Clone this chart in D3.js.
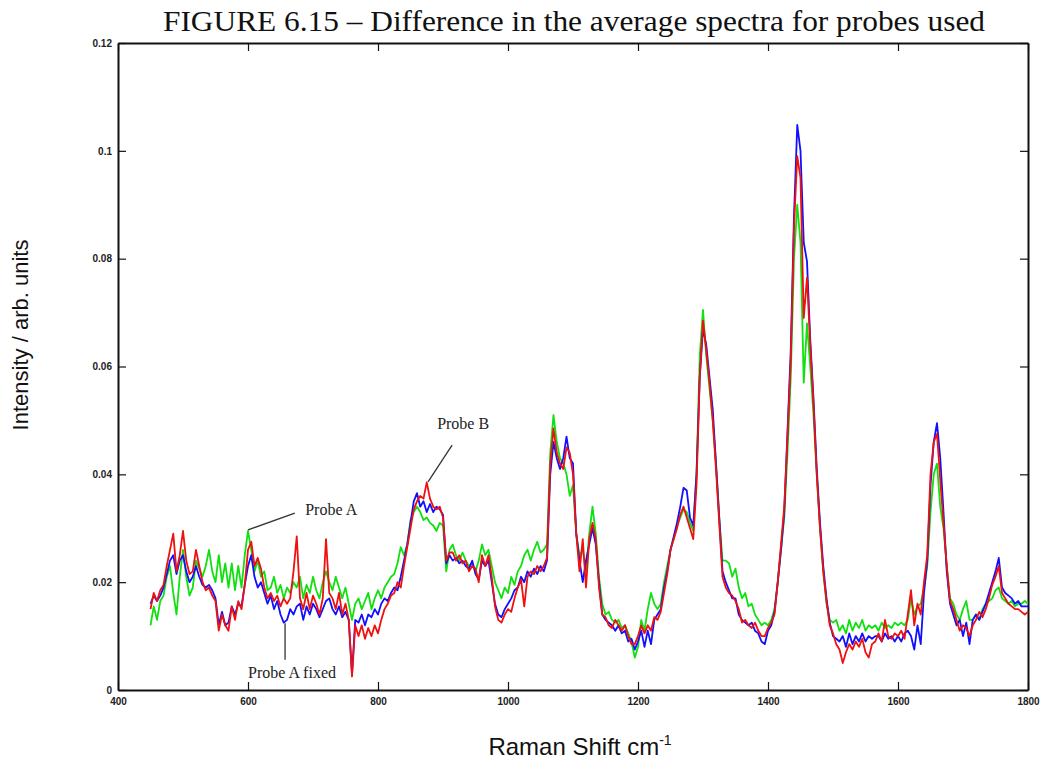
<!DOCTYPE html>
<html>
<head>
<meta charset="utf-8">
<script src="https://cdn.jsdelivr.net/npm/d3@7"></script>
<style>
  html, body { margin: 0; padding: 0; background: #fff; }
  svg { display: block; }
  .tick text { font-family: "Liberation Sans", Arial, sans-serif; font-size: 10px; font-weight: bold; fill: #222; }
  .tick line { stroke: #111; stroke-width: 1.2; }
  .domain { stroke: #111; stroke-width: 2; }
</style>
</head>
<body>
<div id="chart"></div>
<script>
// Raman shift grid (cm-1): 450..1800, one sample every 5 cm-1
const shiftStart = 450, shiftStep = 5, shiftEnd = 1800;
const shifts = d3.range(shiftStart, shiftEnd + 1, shiftStep);

const xTicks = [400, 600, 800, 1000, 1200, 1400, 1600, 1800];
const yTicks = [0, 0.02, 0.04, 0.06, 0.08, 0.1, 0.12];

// Probe A fixed (blue)
const probeAFixed = [
  0.016, 0.0175, 0.0165, 0.0175, 0.019, 0.0215, 0.024, 0.025, 0.0215, 0.024,
  0.025, 0.022, 0.020, 0.021, 0.023, 0.021, 0.0195, 0.019, 0.0195, 0.0185,
  0.017, 0.012, 0.0145, 0.012, 0.0125, 0.0155, 0.014, 0.016, 0.0155, 0.0195,
  0.023, 0.025, 0.021, 0.019, 0.020, 0.018, 0.016, 0.0175, 0.015, 0.0165,
  0.014, 0.0125, 0.013, 0.015, 0.014, 0.0155, 0.016, 0.013, 0.0155, 0.014,
  0.016, 0.015, 0.0135, 0.015, 0.0165, 0.017, 0.015, 0.014, 0.0155, 0.0135,
  0.0145, 0.013, 0.003, 0.013, 0.0125, 0.014, 0.012, 0.014, 0.0135, 0.015,
  0.014, 0.016, 0.017, 0.0165, 0.018, 0.019, 0.0185, 0.021, 0.024, 0.027,
  0.031, 0.035, 0.0365, 0.034, 0.035, 0.033, 0.0345, 0.033, 0.034, 0.0335,
  0.0325, 0.0235, 0.025, 0.024, 0.0245, 0.0235, 0.024, 0.023, 0.0225, 0.024,
  0.0215, 0.0205, 0.024, 0.023, 0.024, 0.020, 0.016, 0.014, 0.0135, 0.015,
  0.016, 0.017, 0.0185, 0.019, 0.021, 0.020, 0.022, 0.021, 0.0225, 0.0215,
  0.023, 0.022, 0.024, 0.040, 0.046, 0.043, 0.041, 0.043, 0.047, 0.043,
  0.042, 0.029, 0.024, 0.020, 0.024, 0.027, 0.030, 0.027, 0.020, 0.014,
  0.013, 0.0125, 0.012, 0.011, 0.012, 0.0105, 0.011, 0.009, 0.0095, 0.0075,
  0.009, 0.011, 0.008, 0.011, 0.0085, 0.013, 0.014, 0.015, 0.019, 0.022,
  0.026, 0.0285, 0.031, 0.034, 0.0375, 0.037, 0.032, 0.0305, 0.040, 0.058,
  0.067, 0.064, 0.058, 0.052, 0.042, 0.032, 0.022, 0.020, 0.0185, 0.017,
  0.017, 0.014, 0.013, 0.0125, 0.012, 0.0125, 0.011, 0.0105, 0.009, 0.0085,
  0.011, 0.012, 0.0145, 0.020, 0.026, 0.033, 0.048, 0.063, 0.088, 0.1048,
  0.100, 0.083, 0.0795, 0.065, 0.054, 0.041, 0.031, 0.023, 0.017, 0.0125,
  0.010, 0.0095, 0.009, 0.010, 0.008, 0.0105, 0.0085, 0.010, 0.009, 0.0105,
  0.009, 0.010, 0.0095, 0.010, 0.010, 0.009, 0.0105, 0.0095, 0.010, 0.009,
  0.010, 0.009, 0.0105, 0.011, 0.010, 0.0075, 0.012, 0.0085, 0.018, 0.024,
  0.038, 0.046, 0.0495, 0.043, 0.033, 0.022, 0.016, 0.014, 0.012, 0.013,
  0.010, 0.0125, 0.0085, 0.013, 0.014, 0.013, 0.0145, 0.016, 0.018, 0.020,
  0.022, 0.0245, 0.019, 0.018, 0.0175, 0.017, 0.016, 0.0165, 0.0155, 0.0155,
  0.0155
];

// Probe B (red)
const probeB = [
  0.015, 0.018, 0.0165, 0.0185, 0.0195, 0.023, 0.026, 0.029, 0.022, 0.025,
  0.0295, 0.024, 0.0215, 0.022, 0.026, 0.023, 0.020, 0.0185, 0.019, 0.0175,
  0.0165, 0.011, 0.014, 0.012, 0.011, 0.0155, 0.013, 0.0165, 0.015, 0.0195,
  0.026, 0.0275, 0.023, 0.0245, 0.0225, 0.019, 0.017, 0.018, 0.0165, 0.0175,
  0.0155, 0.017, 0.016, 0.017, 0.022, 0.0285, 0.017, 0.015, 0.018, 0.015,
  0.0175, 0.016, 0.014, 0.017, 0.028, 0.018, 0.017, 0.015, 0.018, 0.014,
  0.016, 0.013, 0.0025, 0.012, 0.010, 0.012, 0.0095, 0.0115, 0.010, 0.012,
  0.0105, 0.013, 0.015, 0.016, 0.0175, 0.018, 0.020, 0.019, 0.023, 0.0265,
  0.030, 0.0335, 0.035, 0.036, 0.0355, 0.0385, 0.0355, 0.034, 0.0335, 0.034,
  0.032, 0.024, 0.0255, 0.0255, 0.024, 0.025, 0.0235, 0.024, 0.022, 0.023,
  0.0225, 0.020, 0.025, 0.023, 0.025, 0.021, 0.0155, 0.013, 0.0125, 0.014,
  0.015, 0.0145, 0.017, 0.019, 0.0205, 0.0155, 0.021, 0.022, 0.0215, 0.023,
  0.022, 0.023, 0.0245, 0.042, 0.0485, 0.044, 0.042, 0.041, 0.045, 0.044,
  0.040, 0.029, 0.022, 0.028, 0.019, 0.028, 0.031, 0.028, 0.019, 0.014,
  0.0135, 0.012, 0.0115, 0.013, 0.012, 0.011, 0.012, 0.010, 0.0085, 0.0085,
  0.010, 0.012, 0.0105, 0.012, 0.011, 0.0135, 0.013, 0.0145, 0.018, 0.0215,
  0.026, 0.028, 0.030, 0.0325, 0.034, 0.032, 0.030, 0.028, 0.038, 0.058,
  0.0685, 0.063, 0.057, 0.050, 0.041, 0.031, 0.021, 0.019, 0.018, 0.0175,
  0.0165, 0.015, 0.0125, 0.013, 0.012, 0.0115, 0.0125, 0.011, 0.010, 0.010,
  0.0115, 0.0125, 0.014, 0.020, 0.027, 0.034, 0.047, 0.061, 0.086, 0.099,
  0.095, 0.069, 0.0765, 0.064, 0.053, 0.040, 0.030, 0.022, 0.0165, 0.012,
  0.0105, 0.0085, 0.0075, 0.005, 0.007, 0.0085, 0.0075, 0.009, 0.008, 0.0095,
  0.007, 0.006, 0.0085, 0.009, 0.0105, 0.009, 0.013, 0.010, 0.0095, 0.0105,
  0.010, 0.011, 0.0095, 0.014, 0.0185, 0.012, 0.016, 0.014, 0.020, 0.025,
  0.040, 0.046, 0.0475, 0.039, 0.031, 0.023, 0.0165, 0.015, 0.013, 0.011,
  0.012, 0.0115, 0.010, 0.012, 0.013, 0.0145, 0.0135, 0.015, 0.017, 0.0195,
  0.021, 0.023, 0.018, 0.017, 0.016, 0.0155, 0.015, 0.015, 0.0145, 0.014,
  0.0145
];

// Probe A (green)
const probeA = [
  0.012, 0.0155, 0.013, 0.0165, 0.0175, 0.021, 0.023, 0.018, 0.014, 0.021,
  0.026, 0.021, 0.0175, 0.019, 0.024, 0.0225, 0.021, 0.023, 0.026, 0.022,
  0.020, 0.025, 0.020, 0.0235, 0.019, 0.0235, 0.0185, 0.023, 0.019, 0.025,
  0.0295, 0.026, 0.022, 0.024, 0.021, 0.022, 0.0185, 0.019, 0.021, 0.018,
  0.0195, 0.017, 0.019, 0.018, 0.020, 0.019, 0.021, 0.017, 0.0195, 0.018,
  0.021, 0.0185, 0.017, 0.020, 0.022, 0.020, 0.0185, 0.021, 0.019, 0.017,
  0.019, 0.016, 0.013, 0.016, 0.017, 0.015, 0.0165, 0.018, 0.015, 0.017,
  0.0185, 0.017, 0.019, 0.020, 0.021, 0.0215, 0.0235, 0.0265, 0.025, 0.027,
  0.0315, 0.033, 0.034, 0.033, 0.0315, 0.032, 0.031, 0.0305, 0.0295, 0.031,
  0.0305, 0.022, 0.026, 0.027, 0.025, 0.024, 0.0255, 0.024, 0.023, 0.0235,
  0.022, 0.024, 0.027, 0.025, 0.026, 0.023, 0.020, 0.0185, 0.017, 0.019,
  0.018, 0.021, 0.0195, 0.022, 0.023, 0.025, 0.026, 0.024, 0.026, 0.0275,
  0.0255, 0.026, 0.027, 0.044, 0.051, 0.046, 0.043, 0.042, 0.040, 0.036,
  0.038, 0.029, 0.025, 0.026, 0.022, 0.029, 0.034, 0.029, 0.021, 0.016,
  0.014, 0.0145, 0.013, 0.0125, 0.013, 0.0115, 0.012, 0.0105, 0.009, 0.006,
  0.008, 0.013, 0.011, 0.015, 0.018, 0.016, 0.015, 0.016, 0.020, 0.023,
  0.026, 0.028, 0.0305, 0.032, 0.0335, 0.033, 0.031, 0.0295, 0.040, 0.062,
  0.0705, 0.062, 0.056, 0.050, 0.042, 0.032, 0.024, 0.024, 0.0235, 0.021,
  0.0225, 0.019, 0.017, 0.018, 0.0155, 0.016, 0.014, 0.013, 0.012, 0.0125,
  0.012, 0.013, 0.015, 0.020, 0.026, 0.032, 0.044, 0.058, 0.080, 0.090,
  0.083, 0.057, 0.068, 0.060, 0.051, 0.040, 0.030, 0.022, 0.016, 0.013,
  0.0125, 0.013, 0.011, 0.012, 0.0105, 0.013, 0.011, 0.0125, 0.0115, 0.013,
  0.011, 0.012, 0.0115, 0.012, 0.011, 0.0125, 0.0115, 0.012, 0.0115, 0.0125,
  0.012, 0.0125, 0.012, 0.013, 0.017, 0.014, 0.0155, 0.016, 0.019, 0.023,
  0.033, 0.040, 0.042, 0.034, 0.030, 0.023, 0.017, 0.016, 0.014, 0.013,
  0.015, 0.0165, 0.013, 0.013, 0.014, 0.013, 0.015, 0.016, 0.0165, 0.017,
  0.0185, 0.019, 0.017, 0.0165, 0.016, 0.0165, 0.0155, 0.016, 0.016, 0.0165,
  0.016
];

// label text, arrow tip and arrow tail in data units
const annotations = [
  {label: 'Probe A',       tip: [600, 0.0297],   tail: [672, 0.0328],   text: [688, 0.0325]},
  {label: 'Probe B',       tip: [877, 0.0386],   tail: [914, 0.0454],   text: [891, 0.0484]},
  {label: 'Probe A fixed', tip: [657, 0.0124],   tail: [657, 0.0056],   text: [600, 0.0022]}
];

const margin = {top: 43, right: 14, bottom: 72, left: 118},
      width = 1042 - margin.left - margin.right,
      height = 762 - margin.top - margin.bottom;

const x = d3.scaleLinear().domain([400, 1800]).range([0, width]);
const y = d3.scaleLinear().domain([0, 0.12]).range([height, 0]);

const svg = d3.select('#chart').append('svg')
  .attr('width', 1042)
  .attr('height', 762);

const g = svg.append('g')
  .attr('transform', `translate(${margin.left},${margin.top})`);

// axes: ticks point inward on all four sides
g.append('g')
  .attr('transform', `translate(0,${height})`)
  .call(d3.axisBottom(x).tickValues(xTicks).tickSize(-8).tickSizeOuter(0).tickPadding(8).tickFormat(d3.format('d')));

g.append('g')
  .call(d3.axisLeft(y).tickValues(yTicks).tickSize(-8).tickSizeOuter(0).tickPadding(6).tickFormat(d => String(d)));

g.append('g')
  .call(d3.axisTop(x).tickValues(xTicks).tickSize(-8).tickSizeOuter(0).tickFormat(''));

g.append('g')
  .attr('transform', `translate(${width},0)`)
  .call(d3.axisRight(y).tickValues(yTicks).tickSize(-8).tickSizeOuter(0).tickFormat(''));

// spectra
const series = [
  {name: 'Probe A', values: probeA, color: '#10e010'},
  {name: 'Probe A fixed', values: probeAFixed, color: '#1010ff'},
  {name: 'Probe B', values: probeB, color: '#f01010'}
];

const line = d3.line()
  .x((d, i) => x(shifts[i]))
  .y(d => y(d));

g.selectAll('.spectrum')
  .data(series)
  .enter()
  .append('path')
    .attr('class', 'spectrum')
    .attr('fill', 'none')
    .attr('stroke', d => d.color)
    .attr('stroke-width', 1.8)
    .attr('stroke-linejoin', 'round')
    .attr('d', d => line(d.values));

// annotations
const notes = g.selectAll('.note')
  .data(annotations)
  .enter()
  .append('g')
  .attr('class', 'note');

notes.append('line')
  .attr('x1', d => x(d.tip[0]))
  .attr('y1', d => y(d.tip[1]))
  .attr('x2', d => x(d.tail[0]))
  .attr('y2', d => y(d.tail[1]))
  .attr('stroke', '#333')
  .attr('stroke-width', 1.3);

notes.append('text')
  .attr('x', d => x(d.text[0]))
  .attr('y', d => y(d.text[1]))
  .style('font-family', '"Liberation Serif", "Times New Roman", serif')
  .style('font-size', '16px')
  .style('fill', '#222')
  .text(d => d.label);

// title and axis labels
svg.append('text')
  .attr('x', 574)
  .attr('y', 31)
  .attr('text-anchor', 'middle')
  .attr('textLength', 822)
  .attr('lengthAdjust', 'spacingAndGlyphs')
  .style('font-family', '"Liberation Serif", "Times New Roman", serif')
  .style('font-size', '30px')
  .style('fill', '#111')
  .text('FIGURE 6.15 \u2013 Difference in the average spectra for probes used');

svg.append('text')
  .attr('transform', 'translate(28,335) rotate(-90)')
  .attr('text-anchor', 'middle')
  .style('font-family', '"Liberation Sans", Arial, sans-serif')
  .style('font-size', '22px')
  .style('fill', '#111')
  .text('Intensity / arb. units');

const xLabel = svg.append('text')
  .attr('x', 580)
  .attr('y', 755)
  .attr('text-anchor', 'middle')
  .style('font-family', '"Liberation Sans", Arial, sans-serif')
  .style('font-size', '24px')
  .style('fill', '#111');
xLabel.append('tspan').text('Raman Shift cm');
xLabel.append('tspan')
  .attr('dy', -10)
  .style('font-size', '14px')
  .text('-1');
</script>
</body>
</html>
